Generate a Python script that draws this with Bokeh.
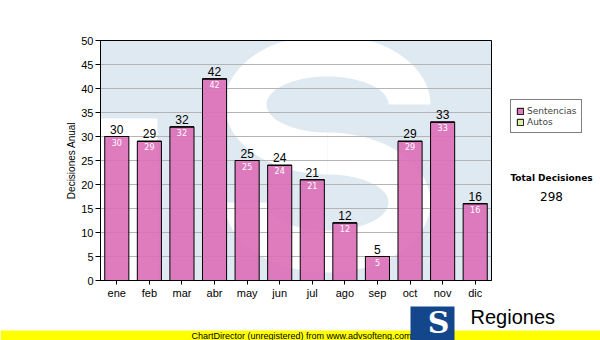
import math
from bokeh.plotting import figure
from bokeh.models import Range1d, FixedTicker, Legend, LegendItem, Label, ColumnDataSource
from bokeh.core.properties import value
from bokeh.embed import file_html
from bokeh.resources import INLINE

# ---- data ----
months = ["ene", "feb", "mar", "abr", "may", "jun", "jul", "ago", "sep", "oct", "nov", "dic"]
sentencias = [30, 29, 32, 42, 25, 24, 21, 12, 5, 29, 33, 16]
autos = [0, 0, 0, 0, 0, 0, 0, 0, 0, 0, 0, 0]
y_ticks = [0, 5, 10, 15, 20, 25, 30, 35, 40, 45, 50]
series_names = ["Sentencias", "Autos"]
total_title = "Total Decisiones"
y_title = "Decisiones Anual"

xs = list(range(1, len(months) + 1))
tops2 = [s + a for s, a in zip(sentencias, autos)]
src = ColumnDataSource(dict(x=xs, top=sentencias, top2=tops2,
                            lbl=[str(v) for v in sentencias]))

PINK = "#db6eb7"
GREEN = "#dcf0aa"
W, H = 600, 340

# plot area in canvas pixels: x 100..491, y 40..280
XS = 391.0 / 12.0
X0 = 0.5 - 100.0 / XS
YS = 240.0 / 50.0


def dx(px):
    return X0 + px / XS


def dy(py):
    return (280.0 - py) / YS


p = figure(width=W, height=H, x_range=Range1d(X0, X0 + W / XS),
           y_range=Range1d(dy(H), dy(0)), min_border=0,
           toolbar_location=None, output_backend="svg")
p.title.visible = False
p.background_fill_color = "white"
p.border_fill_color = "white"
p.outline_line_color = None
p.grid.visible = False

# plot-area background + watermark (decoration)
p.quad(left=[0.5], right=[12.5], bottom=[0], top=[50], fill_color="#dfe9f2", line_color=None)
p.quad(left=[0.5], right=[dx(157)], bottom=[0], top=[dy(118)], fill_color="white",
       line_color=None)


def arc_patch(cx, cy, a, b, t, th0, th1, n=60):
    outer, inner = [], []
    for i in range(n + 1):
        th = math.radians(th0 + (th1 - th0) * i / n)
        outer.append((cx + (a + t / 2) * math.cos(th), cy - (b + t / 2) * math.sin(th)))
        inner.append((cx + (a - t / 2) * math.cos(th), cy - (b - t / 2) * math.sin(th)))
    pts = outer + inner[::-1]
    return [dx(x) for x, _ in pts], [dy(max(40.0, min(280.0, y))) for _, y in pts]


ux, uy = arc_patch(327, 104, 82, 49, 42, 0, 270)
lx, ly = arc_patch(327, 202, 82, 49, 42, 90, -180)
p.patches(xs=[ux, lx], ys=[uy, ly], fill_color="white", line_color=None)

# horizontal grid lines
p.segment(x0=[0.5] * len(y_ticks), x1=[12.5] * len(y_ticks), y0=y_ticks, y1=y_ticks,
          line_color="#b4b4b4", line_width=1)

# axes (fixed at the plot-area edges)
p.yaxis.ticker = FixedTicker(ticks=y_ticks)
p.xaxis.ticker = FixedTicker(ticks=xs)
p.xaxis.major_label_overrides = {x: m for x, m in zip(xs, months)}
p.xaxis.fixed_location = 0
p.yaxis.fixed_location = 0.5
p.xaxis.bounds = (0.5, 12.5)
p.yaxis.bounds = (0, 50)
for ax in (p.xaxis[0], p.yaxis[0]):
    ax.axis_line_color = "black"
    ax.major_tick_line_color = "black"
    ax.major_tick_in = 0
    ax.minor_tick_line_color = None
    ax.major_label_text_font = "Liberation Sans"
    ax.major_label_text_font_size = "11px"
    ax.major_label_text_color = "black"
    ax.major_label_standoff = 2
p.yaxis.major_tick_out = 5
p.xaxis.major_tick_out = 4
p.yaxis.axis_label = y_title
p.yaxis.axis_label_text_font = "Liberation Sans"
p.yaxis.axis_label_text_font_size = "10px"
p.yaxis.axis_label_text_font_style = "normal"
p.yaxis.axis_label_text_color = "black"
p.yaxis.axis_label_standoff = 1

r1 = p.vbar(x="x", top="top", bottom=0, width=0.74, source=src, fill_color=PINK,
            fill_alpha=0.9, line_color="black", line_width=1)
r2 = p.vbar(x="x", top="top2", bottom="top", width=0.74, source=src, fill_color=GREEN,
            line_color="black", line_width=1)

p.text(x="x", y="top", text="lbl", source=src, text_align="center", text_baseline="bottom",
       y_offset=-3, text_font=value("Liberation Sans"), text_font_size="12px",
       text_color="black")
p.text(x="x", y="top", text="lbl", source=src, text_align="center", text_baseline="top",
       y_offset=2, text_font=value("DejaVu Sans"), text_font_size="8px", text_color="white")

# plot-area border
p.quad(left=[0.5], right=[12.5], bottom=[0], top=[50], fill_color=None,
       line_color="black", line_width=1)

legend = Legend(items=[LegendItem(label=series_names[0], renderers=[r1]),
                       LegendItem(label=series_names[1], renderers=[r2])],
                location=(510, H - 133), orientation="vertical",
                glyph_width=8, glyph_height=8, label_height=11, label_standoff=3,
                spacing=0, padding=5, margin=0,
                label_text_font="DejaVu Sans", label_text_font_size="9px",
                border_line_color="black", border_line_width=1,
                background_fill_color="white", background_fill_alpha=1)
p.add_layout(legend)

total = sum(sentencias) + sum(autos)
p.add_layout(Label(x=dx(551), y=dy(177), text=total_title, text_align="center",
                   text_baseline="middle", text_font="DejaVu Sans", text_font_style="bold",
                   text_font_size="9px", text_color="black"))
p.add_layout(Label(x=dx(551), y=dy(196), text=str(total), text_align="center",
                   text_baseline="middle", text_font="DejaVu Sans",
                   text_font_size="12px", text_color="black"))

# ---- footer: yellow band + logo ----
p.quad(left=[dx(0)], right=[dx(W)], top=[dy(330)], bottom=[dy(H)], fill_color="#ffff00",
       line_color=None)
p.text(x=[dx(191)], y=[dy(335)], text=["ChartDirector (unregistered) from www.advsofteng.com"],
       text_font=value("Liberation Sans"), text_font_size="9px", text_color="black",
       text_baseline="middle", text_align="left")
p.quad(left=[dx(410)], right=[dx(454)], top=[dy(306)], bottom=[dy(H)], fill_color="#14468c",
       line_color=None)
p.text(x=[dx(438)], y=[dy(339)], text=["S"], text_font=value("DejaVu Serif"),
       text_font_style="bold", text_font_size="30px", text_color="white",
       text_align="center", text_baseline="bottom")
p.text(x=[dx(470)], y=[dy(305)], text=["Regiones"], text_font=value("Liberation Sans"),
       text_font_size="20px", text_color="black", text_baseline="top",
       text_align="left")

open("out.html", "w").write(file_html(p, INLINE))
